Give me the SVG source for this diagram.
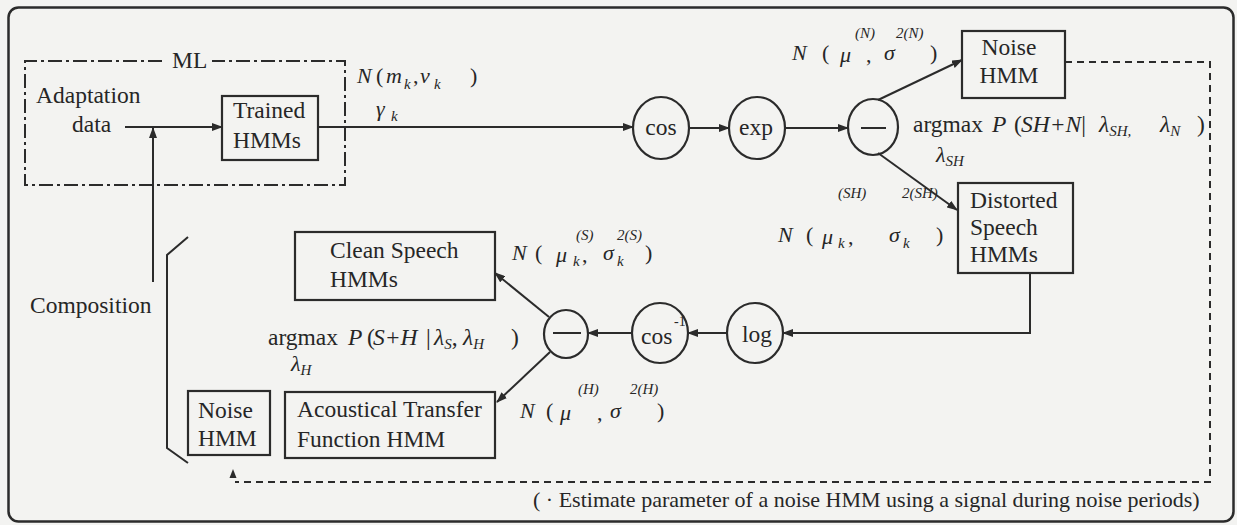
<svg xmlns="http://www.w3.org/2000/svg" width="1237" height="525" viewBox="0 0 1237 525">
<style>
.ln{fill:none;stroke:#2b2b2b;stroke-width:2}
.bx{fill:none;stroke:#2b2b2b;stroke-width:2.2}
.t{font-family:"Liberation Serif","Times New Roman","DejaVu Serif",serif;font-size:23.5px;fill:#262626}
.m{font-family:"Liberation Serif","Times New Roman","DejaVu Serif",serif;font-size:22px;fill:#262626}
.i{font-style:italic}
.s{font-family:"Liberation Serif","Times New Roman","DejaVu Serif",serif;font-size:15px;font-style:italic;fill:#262626}
.dd{fill:none;stroke:#2b2b2b;stroke-width:2;stroke-dasharray:14 4 3 4}
.dsh{fill:none;stroke:#2b2b2b;stroke-width:2;stroke-dasharray:7 5}
</style>
<defs>
<marker id="ah" markerUnits="userSpaceOnUse" markerWidth="11" markerHeight="8" refX="10" refY="4" orient="auto">
<path d="M0,0 L11,4 L0,8 z" fill="#2b2b2b"/>
</marker>
</defs>
<rect x="0" y="0" width="1237" height="525" fill="#f3f3f1"/>
<rect x="8.5" y="7.5" width="1225" height="514" rx="10" fill="none" stroke="#2b2b2b" stroke-width="2.5"/>

<g id="ml-box">
<path class="dd" d="M162,61 H25 V185 H345 V61 H212"/>
<text class="t" x="172" y="68">ML</text>
</g>
<g id="adaptation-data">
<text class="t" x="36" y="103">Adaptation</text>
<text class="t" x="72" y="132">data</text>
</g>
<g id="trained-hmms">
<rect class="bx" x="222" y="96" width="96" height="64"/>
<text class="t" x="233" y="118">Trained</text>
<text class="t" x="233" y="148">HMMs</text>
</g>
<g id="cos">
<ellipse class="bx" cx="661" cy="128" rx="28" ry="31"/>
<text class="t" x="661" y="135" text-anchor="middle">cos</text>
</g>
<g id="exp">
<ellipse class="bx" cx="757" cy="128" rx="28" ry="31"/>
<text class="t" x="756" y="135" text-anchor="middle">exp</text>
</g>
<g id="minus-top">
<ellipse class="bx" cx="873" cy="127" rx="25" ry="28"/>
<line class="ln" x1="861" y1="128" x2="886" y2="128"/>
</g>
<g id="noise-hmm-top">
<rect class="bx" x="962" y="31" width="103" height="67"/>
<text class="t" x="1009" y="55" text-anchor="middle">Noise</text>
<text class="t" x="1009" y="83" text-anchor="middle">HMM</text>
</g>
<g id="distorted-speech-hmms">
<rect class="bx" x="958" y="183" width="115" height="90"/>
<text class="t" x="970" y="208">Distorted</text>
<text class="t" x="970" y="235">Speech</text>
<text class="t" x="970" y="262">HMMs</text>
</g>
<g id="log">
<ellipse class="bx" cx="755" cy="333" rx="28" ry="30"/>
<text class="t" x="757" y="342" text-anchor="middle">log</text>
</g>
<g id="arccos">
<ellipse class="bx" cx="660" cy="333" rx="28" ry="30"/>
<text class="t" x="641" y="344">cos</text>
<text class="s" x="674" y="326" style="font-style:normal;font-size:14px">-1</text>
</g>
<g id="minus-bottom">
<ellipse class="bx" cx="566" cy="334" rx="22" ry="24"/>
<line class="ln" x1="553" y1="333" x2="581" y2="333"/>
</g>
<g id="clean-speech-hmms">
<rect class="bx" x="295" y="232" width="200" height="68"/>
<text class="t" x="330" y="258">Clean Speech</text>
<text class="t" x="330" y="287">HMMs</text>
</g>
<g id="atf-hmm">
<rect class="bx" x="285" y="392" width="210" height="66"/>
<text class="t" x="297" y="417">Acoustical Transfer</text>
<text class="t" x="297" y="447">Function HMM</text>
</g>
<g id="noise-hmm-bottom">
<rect class="bx" x="188" y="391" width="82" height="64"/>
<text class="t" x="198" y="418">Noise</text>
<text class="t" x="198" y="446">HMM</text>
</g>
<g id="composition">
<text class="t" x="30" y="313">Composition</text>
</g>

<g id="labels">
<text class="m i" x="357" y="83">N</text>
<text class="m" x="376" y="83">(</text>
<text class="m i" x="386" y="83">m</text>
<text class="s" x="404" y="89">k</text>
<text class="m" x="413" y="83">,</text>
<text class="m i" x="420" y="83">v</text>
<text class="s" x="434" y="89">k</text>
<text class="m" x="470" y="83">)</text>
<text class="m i" x="376" y="116">γ</text>
<text class="s" x="391" y="121">k</text>

<text class="m i" x="792" y="60">N</text>
<text class="m" x="822" y="60">(</text>
<text class="m i" x="840" y="62">μ</text>
<text class="s" x="855" y="38">(N)</text>
<text class="m" x="866" y="62">,</text>
<text class="m i" x="884" y="60">σ</text>
<text class="s" x="896" y="38">2(N)</text>
<text class="m" x="930" y="60">)</text>

<text class="t" x="913" y="132">argmax <tspan class="i" x="992">P</tspan><tspan x="1008"> (</tspan><tspan class="i" x="1021">SH+N</tspan><tspan>|</tspan><tspan x="1099" class="i">λ</tspan><tspan class="s" dy="4">SH,</tspan><tspan class="i" x="1160" dy="-4">λ</tspan><tspan class="s" dy="4">N</tspan><tspan x="1197" dy="-4">)</tspan></text>
<text class="m i" x="936" y="162">λ<tspan class="s" dy="4">SH</tspan></text>

<text class="m i" x="778" y="242">N</text>
<text class="m" x="806" y="242">(</text>
<text class="m i" x="822" y="244">μ</text>
<text class="s" x="838" y="248">k</text>
<text class="m" x="848" y="244">,</text>
<text class="s" x="838" y="198">(SH)</text>
<text class="m i" x="889" y="242">σ</text>
<text class="s" x="903" y="248">k</text>
<text class="s" x="902" y="198">2(SH)</text>
<text class="m" x="936" y="242">)</text>

<text class="m i" x="512" y="260">N</text>
<text class="m" x="535" y="260">(</text>
<text class="m i" x="556" y="262">μ</text>
<text class="s" x="573" y="266">k</text>
<text class="m" x="582" y="262">,</text>
<text class="s" x="576" y="240">(S)</text>
<text class="m i" x="603" y="260">σ</text>
<text class="s" x="617" y="266">k</text>
<text class="s" x="617" y="240">2(S)</text>
<text class="m" x="645" y="260">)</text>

<text class="t" x="268" y="345">argmax <tspan class="i" x="348">P</tspan><tspan x="361"> (</tspan><tspan class="i" x="373">S+H</tspan><tspan x="426">|</tspan><tspan class="i" x="434">λ</tspan><tspan class="s" dy="4">S</tspan><tspan dy="-4">,</tspan><tspan class="i" x="463">λ</tspan><tspan class="s" dy="4">H</tspan><tspan x="511" dy="-4">)</tspan></text>
<text class="m i" x="291" y="371">λ<tspan class="s" dy="4">H</tspan></text>

<text class="m i" x="520" y="418">N</text>
<text class="m" x="546" y="418">(</text>
<text class="m i" x="560" y="420">μ</text>
<text class="s" x="578" y="394">(H)</text>
<text class="m" x="597" y="420">,</text>
<text class="m i" x="610" y="418">σ</text>
<text class="s" x="630" y="394">2(H)</text>
<text class="m" x="657" y="418">)</text>

<text class="m" x="533" y="507">( · Estimate parameter of a noise HMM using a signal during noise periods)</text>
</g>

<g id="connectors">
<line class="ln" x1="125" y1="127" x2="222" y2="127" marker-end="url(#ah)"/>
<line class="ln" x1="153" y1="282" x2="153" y2="128" marker-end="url(#ah)"/>
<line class="ln" x1="318" y1="127" x2="633" y2="127" marker-end="url(#ah)"/>
<line class="ln" x1="689" y1="128" x2="729" y2="128" marker-end="url(#ah)"/>
<line class="ln" x1="785" y1="128" x2="848" y2="128" marker-end="url(#ah)"/>
<line class="ln" x1="878" y1="100" x2="962" y2="60" marker-end="url(#ah)"/>
<line class="ln" x1="878" y1="153" x2="957" y2="210" marker-end="url(#ah)"/>
<path class="ln" d="M1030,273 V333 H783" marker-end="url(#ah)"/>
<line class="ln" x1="727" y1="333" x2="688" y2="333" marker-end="url(#ah)"/>
<line class="ln" x1="632" y1="333" x2="588" y2="333" marker-end="url(#ah)"/>
<line class="ln" x1="549" y1="317" x2="495" y2="273" marker-end="url(#ah)"/>
<line class="ln" x1="550" y1="352" x2="497" y2="402" marker-end="url(#ah)"/>
<path class="dsh" d="M1065,62 H1210 V482 H235"/>
<path d="M233,469 L229.5,478 L236.5,478 z" fill="#2b2b2b"/>
<path class="ln" d="M188,237 L167,255 V448 L188,463"/>
</g>
</svg>
